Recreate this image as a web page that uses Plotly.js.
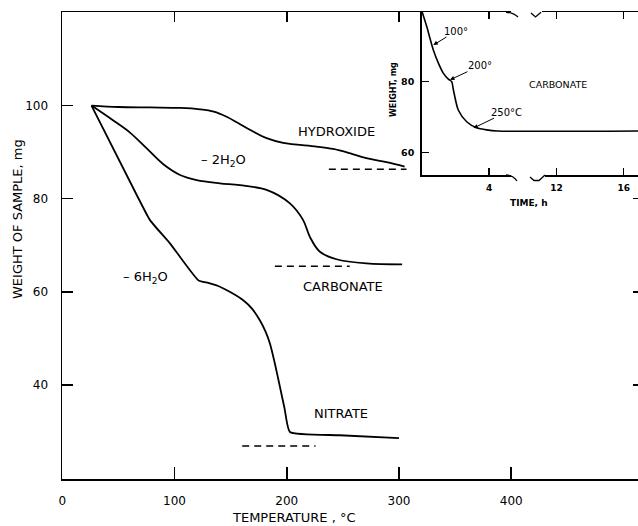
<!DOCTYPE html>
<html>
<head>
<meta charset="utf-8">
<script src="https://cdn.plot.ly/plotly-3.0.1.min.js"></script>
<style>html,body{margin:0;padding:0;background:#fff;}#chart{width:638px;height:526px;}</style>
</head>
<body>
<div id="chart"></div>
<script>
// ---- Main chart data: weight of sample (mg) vs temperature (°C) ----
const hydroxideT = [26, 50, 78, 105, 122.6, 135, 146.4, 157, 167.1, 182, 196.8, 226.5, 241.3, 256, 271, 290, 305];
const hydroxideW = [100, 99.7, 99.6, 99.5, 99.2, 98.7, 97.6, 96.2, 94.8, 93.0, 92.0, 91.2, 90.7, 89.8, 88.7, 87.8, 86.9];

const carbonateT = [26, 45.4, 60.3, 75.2, 90, 104.9, 119.7, 140.4, 158.2, 182, 202.8, 214.6, 220.6, 229.5, 244.3, 271, 302.8];
const carbonateW = [100, 96.8, 94.2, 90.8, 87.4, 85.1, 84.0, 83.3, 82.9, 81.9, 79.0, 75.4, 71.8, 68.6, 67.0, 66.1, 65.9];

const nitrateT = [26, 66.3, 78.1, 95.9, 121.1, 130, 140.4, 150, 161.2, 169, 176, 181, 185, 189.5, 193.9, 198, 202.8, 247, 300];
const nitrateW = [100, 80.8, 75.4, 70.4, 62.5, 61.9, 61.1, 59.9, 58.2, 56.4, 53.9, 51.5, 48.9, 44.5, 39.6, 35.0, 29.9, 29.2, 28.6];

// theoretical residue levels (dashed)
const hydroxideRefT = [237.5, 306.7]; const hydroxideRefW = [86.3, 86.3];
const carbonateRefT = [189.4, 256.1]; const carbonateRefW = [65.5, 65.5];
const nitrateRefT = [160.3, 225.6];   const nitrateRefW = [26.9, 26.9];

const xTickVals = [0, 100, 200, 300, 400];
const yTickVals = [40, 60, 80, 100];

// ---- Inset data: carbonate weight (mg) vs time (h), axis broken between 4 and 12 h ----
const insetTime   = [0, 0.3, 0.49, 0.69, 0.99, 1.28, 1.58, 1.78, 1.88, 2.17, 2.67, 3.26, 3.86, 4.5, 16.84];
const insetWeight = [100, 95.5, 92.2, 88.9, 85.2, 82.4, 80.7, 80.0, 77.7, 72.0, 68.7, 67.0, 66.4, 66.1, 66.1];
const insetTickHours = [4, 12, 16];
const insetYTicks = [60, 80];
const breakHours = 4; // hours removed by the axis break (between 4 and 12 h)

function dispTime(t) { return t > 8 ? t - breakHours : t; }
const insetX = insetTime.map(dispTime);
const insetTickPos = insetTickHours.map(dispTime);

// ---- geometry helpers (pixel -> paper) ----
const W = 638, H = 526, ML = 62, MR = 0, MT = 12, MB = 47;
const PW = W - ML - MR, PH = H - MT - MB;
const px = v => (v - ML) / PW;
const py = v => (H - MB - v) / PH;

const FONT = 'DejaVu Sans, Arial, sans-serif';
const BLACK = '#000';
const lineStyle = {color: BLACK, width: 1.8};
const dashStyle = {color: BLACK, width: 1.5, dash: '7px,5px'};

const traces = [
  {x: hydroxideT, y: hydroxideW, mode: 'lines', line: Object.assign({shape: 'spline', smoothing: 1}, lineStyle), hoverinfo: 'skip'},
  {x: carbonateT, y: carbonateW, mode: 'lines', line: Object.assign({shape: 'spline', smoothing: 1}, lineStyle), hoverinfo: 'skip'},
  {x: nitrateT, y: nitrateW, mode: 'lines', line: Object.assign({shape: 'spline', smoothing: 0.45}, lineStyle), hoverinfo: 'skip'},
  {x: hydroxideRefT, y: hydroxideRefW, mode: 'lines', line: dashStyle, hoverinfo: 'skip'},
  {x: carbonateRefT, y: carbonateRefW, mode: 'lines', line: dashStyle, hoverinfo: 'skip'},
  {x: nitrateRefT, y: nitrateRefW, mode: 'lines', line: dashStyle, hoverinfo: 'skip'},
  {x: insetX, y: insetWeight, xaxis: 'x2', yaxis: 'y2', mode: 'lines', line: {color: BLACK, width: 1.6, shape: 'spline', smoothing: 0.7}, hoverinfo: 'skip'},
  // carriers for the mirrored top / right tick axes
  {x: [null], y: [null], xaxis: 'x3', yaxis: 'y', mode: 'lines', hoverinfo: 'skip'},
  {x: [null], y: [null], xaxis: 'x', yaxis: 'y3', mode: 'lines', hoverinfo: 'skip'}
];

const xRange = [-0.3, 513];
const yRange = [19.8, 120.1];

const layout = {
  width: W, height: H,
  margin: {l: ML, r: MR, t: MT, b: MB, pad: 0},
  paper_bgcolor: '#fff', plot_bgcolor: 'rgba(0,0,0,0)',
  showlegend: false,
  font: {family: FONT, color: BLACK, size: 12},
  xaxis: {
    domain: [0, 1], anchor: 'y', range: xRange, tickvals: xTickVals,
    ticks: 'inside', ticklen: 12, tickwidth: 1.5, tickcolor: BLACK,
    showline: true, linewidth: 1.5, linecolor: BLACK,
    showgrid: false, zeroline: false, ticklabelstandoff: 10,
    tickfont: {family: FONT, size: 12, color: BLACK}
  },
  xaxis3: {
    overlaying: 'x', side: 'top', anchor: 'y', range: xRange, tickvals: [100, 200, 300],
    ticks: 'inside', ticklen: 10, tickwidth: 1.5, tickcolor: BLACK,
    showline: true, linewidth: 1.5, linecolor: BLACK,
    showgrid: false, zeroline: false, showticklabels: false
  },
  yaxis: {
    domain: [0, 1], anchor: 'x', range: yRange, tickvals: yTickVals,
    ticks: 'inside', ticklen: 11, tickwidth: 1.5, tickcolor: BLACK,
    showline: true, linewidth: 1.5, linecolor: BLACK,
    showgrid: false, zeroline: false, ticklabelstandoff: 10,
    tickfont: {family: FONT, size: 12, color: BLACK}
  },
  yaxis3: {
    overlaying: 'y', side: 'right', anchor: 'x', range: yRange, tickvals: [40, 60, 80],
    ticks: 'inside', ticklen: 5, tickwidth: 1.5, tickcolor: BLACK,
    showline: false, showgrid: false, zeroline: false, showticklabels: false
  },
  xaxis2: {
    domain: [px(421.7), 1], anchor: 'y2', range: [0, 12.84],
    tickvals: insetTickPos, ticktext: insetTickHours.map(String),
    ticks: 'inside', ticklen: 7, tickwidth: 1.3, tickcolor: BLACK, mirror: 'ticks',
    showline: true, linewidth: 1.5, linecolor: BLACK,
    showgrid: false, zeroline: false, ticklabelstandoff: 4,
    tickfont: {family: FONT, size: 9, color: BLACK, weight: 'bold'}
  },
  yaxis2: {
    domain: [py(175), 1], anchor: 'x2', range: [53.7, 99.6], tickvals: insetYTicks,
    ticks: 'inside', ticklen: 7, tickwidth: 1.3, tickcolor: BLACK,
    showline: true, linewidth: 1.5, linecolor: BLACK,
    showgrid: false, zeroline: false, ticklabelstandoff: 4,
    tickfont: {family: FONT, size: 9.5, color: BLACK, weight: 'bold'}
  },
  annotations: [],
  shapes: []
};

const A = layout.annotations;
function lab(text, x, y, size, ref) {
  A.push({text: text, x: x, y: y, xref: ref ? 'x2' : 'x', yref: ref ? 'y2' : 'y', showarrow: false,
          font: {family: FONT, size: size, color: BLACK}, xanchor: 'center', yanchor: 'middle'});
}
// curve labels (main)
lab('HYDROXIDE', 244.5, 94.4, 13);
lab('\u2013 2H<sub>2</sub>O', 144, 88.1, 13);
lab('CARBONATE', 250.2, 61.1, 13);
lab('\u2013 6H<sub>2</sub>O', 74.4, 63.1, 13);
lab('NITRATE', 248.2, 33.9, 13);
// inset label
lab('CARBONATE', 8.1, 79.1, 9.5, true);

// inset arrows with temperatures
function arrowLab(text, t, w, ax, ay) {
  A.push({text: text, x: dispTime(t), y: w, xref: 'x2', yref: 'y2', ax: ax, ay: ay, axref: 'pixel', ayref: 'pixel',
          showarrow: true, arrowhead: 2, arrowsize: 0.9, arrowwidth: 1, arrowcolor: BLACK, standoff: 0,
          font: {family: FONT, size: 10, color: BLACK}, borderpad: 0});
}
arrowLab('100\u00b0', 0.69, 90.3, 23, -14);
arrowLab('200\u00b0', 1.68, 80.5, 30, -14);
arrowLab('250\u00b0C', 3.07, 66.9, 33, -16);

// axis titles
A.push({text: 'WEIGHT OF SAMPLE, mg', x: px(17), y: py(219), xref: 'paper', yref: 'paper', textangle: -90,
        showarrow: false, font: {family: FONT, size: 13, color: BLACK}, xanchor: 'center', yanchor: 'middle'});
A.push({text: 'TEMPERATURE , \u00b0C', x: px(294), y: py(517), xref: 'paper', yref: 'paper',
        showarrow: false, font: {family: FONT, size: 13, color: BLACK}, xanchor: 'center', yanchor: 'middle', borderpad: 0});
A.push({text: 'WEIGHT, mg', x: px(393), y: py(90), xref: 'paper', yref: 'paper', textangle: -90,
        showarrow: false, font: {family: FONT, size: 8, color: BLACK, weight: 'bold'}, xanchor: 'center', yanchor: 'middle'});
A.push({text: 'TIME, h', x: px(529), y: py(203), xref: 'paper', yref: 'paper',
        showarrow: false, font: {family: FONT, size: 9, color: BLACK, weight: 'bold'}, xanchor: 'center', yanchor: 'middle'});

// axis break marks on the inset time axis (bottom and top)
const S = layout.shapes;
function rectPx(x0, y0, x1, y1) {
  S.push({type: 'rect', xref: 'paper', yref: 'paper', x0: px(x0), x1: px(x1), y0: py(y0), y1: py(y1),
          fillcolor: '#fff', line: {width: 0}, layer: 'above'});
}
function pathPx(pts) {
  let d = '';
  pts.forEach((p, i) => { d += (i === 0 ? 'M' : (p.length === 4 ? 'Q' : 'L')) + ' ';
    if (p.length === 4) d += px(p[0]) + ',' + py(p[1]) + ' ' + px(p[2]) + ',' + py(p[3]) + ' ';
    else d += px(p[0]) + ',' + py(p[1]) + ' '; });
  S.push({type: 'path', xref: 'paper', yref: 'paper', path: d.trim(), line: {color: BLACK, width: 1.3}, layer: 'above'});
}
rectPx(511, 172.5, 545, 177.5);
rectPx(511, 9.5, 542, 14.5);
pathPx([[506, 175], [513, 175, 517, 181]]);
pathPx([[530, 177], [534, 180.5], [539, 180.5], [545, 175]]);
pathPx([[506, 12.3], [513, 12.3, 518, 17]]);
pathPx([[531, 13], [535.5, 17], [541, 12.3]]);

Plotly.newPlot('chart', traces, layout, {staticPlot: true, displayModeBar: false});
</script>
</body>
</html>
